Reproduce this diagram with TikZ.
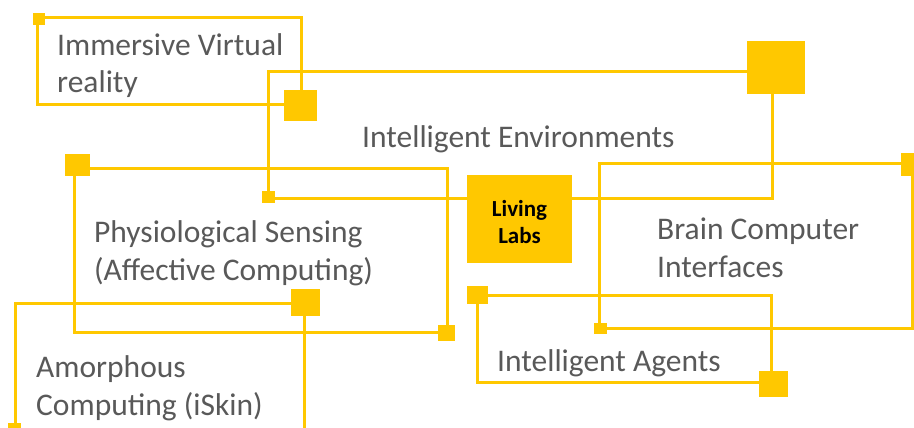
\documentclass[tikz,border=0pt]{standalone}
\usepackage{fontspec}
\setmainfont{Carlito}
\definecolor{ylw}{RGB}{255,200,0}
\definecolor{txt}{RGB}{89,89,89}
\begin{document}
\begin{tikzpicture}[x=1pt,y=-1pt,
  ln/.style={draw=ylw,line width=3pt},
  sq/.style={fill=ylw,draw=none,inner sep=0pt,outer sep=0pt},
  lbl/.style={text=txt,font=\fontsize{31.5}{38}\selectfont,align=left,anchor=base west,inner sep=0pt},
  hub/.style={fill=ylw,draw=none,inner sep=0pt,minimum width=105pt,minimum height=88pt},
  hubtext/.style={text=black,font=\fontsize{23}{27}\selectfont\bfseries,align=center,anchor=base,inner sep=0pt}]
\useasboundingbox (0,0) rectangle (914,428);
\clip (0,0) rectangle (914,428);
% corner coordinates of the frames
\coordinate (ivr1) at (37,18);   \coordinate (ivr2) at (301,105);
\coordinate (ie1)  at (268,72);  \coordinate (ie2)  at (772,198);
\coordinate (ph1)  at (74,168);  \coordinate (ph2)  at (447,332);
\coordinate (am1)  at (15,303);  \coordinate (am2)  at (304,429.5);
\coordinate (br1)  at (599,163); \coordinate (br2)  at (912,328);
\coordinate (ag1)  at (477,295); \coordinate (ag2)  at (771,382);
% frames
\draw[ln] (ivr1) rectangle (ivr2);
\draw[ln] (ie1) rectangle (ie2);
\draw[ln] (ph1) rectangle (ph2);
\draw[ln] (am1) rectangle (am2);
\draw[ln] (br1) rectangle (br2);
\draw[ln] (ag1) rectangle (ag2);
% corner squares
\node[sq,minimum width=12pt,minimum height=12pt] (ivrS) at (39,19) {};
\node[sq,minimum width=33pt,minimum height=31pt] (ivrB) at (300.5,105.5) {};
\node[sq,minimum width=58pt,minimum height=53pt] (ieB) at (776,67.5) {};
\node[sq,minimum width=13pt,minimum height=12pt] (ieS) at (268.5,197) {};
\node[sq,minimum width=25pt,minimum height=22pt] (phB) at (77.5,164.5) {};
\node[sq,minimum width=17pt,minimum height=16pt] (phS) at (446.5,333) {};
\node[sq,minimum width=29pt,minimum height=27pt] (amB) at (305.5,302.5) {};
\node[sq,minimum width=13pt,minimum height=13pt] (amS) at (14.5,429.5) {};
\node[sq,minimum width=22pt,minimum height=23pt] (brB) at (912,164.5) {};
\node[sq,minimum width=13pt,minimum height=11pt] (brS) at (600.5,328.5) {};
\node[sq,minimum width=21pt,minimum height=18pt] (agS) at (477.5,295) {};
\node[sq,minimum width=29pt,minimum height=26pt] (agB) at (773.5,384) {};
% hub
\node[hub] (hub) at (519.5,219) {};
\node[hubtext] (hubtxt) at (519.5,243) {Living\\Labs};
% labels (anchor = baseline of the last line)
\node[lbl] (ivr) at (57,93) {Immersive Virtual\\reality};
\node[lbl] (ie) at (362,147) {Intelligent Environments};
\node[lbl] (ph) at (94,280) {Physiological Sensing\\(Affective Computing)};
\node[lbl] (am) at (36,415) {Amorphous\\Computing (iSkin)};
\node[lbl] (br) at (657,277) {Brain Computer\\Interfaces};
\node[lbl] (ag) at (497,371) {Intelligent Agents};
\end{tikzpicture}
\end{document}
